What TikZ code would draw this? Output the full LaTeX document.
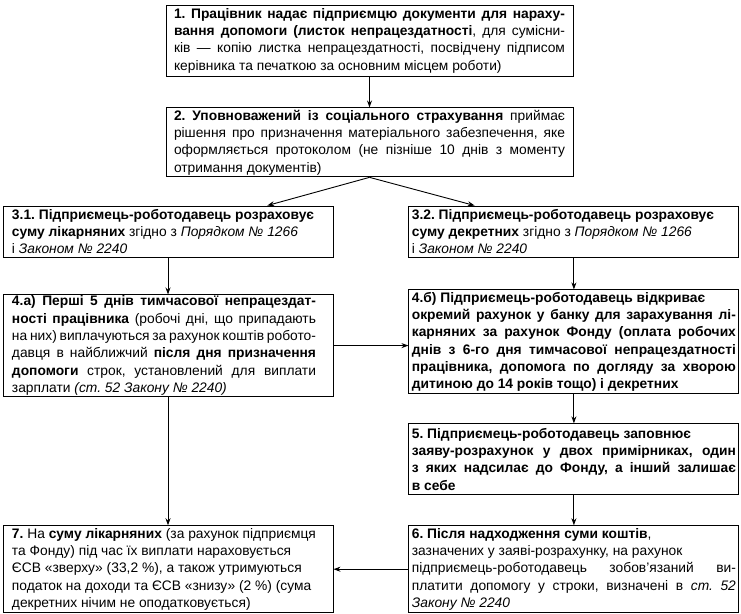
\documentclass[tikz,border=0pt]{standalone}
\usepackage{fontspec}
\setmainfont{Liberation Sans}
\usetikzlibrary{
	positioning,
	arrows.meta,
	calc
}
\frenchspacing
\tolerance=9999
\hyphenpenalty=10000
\exhyphenpenalty=10000

\tikzset{
	box/.style={draw,line width=0.9pt,align=justify,inner ysep=1pt,
		font=\fontsize{13.8}{17.3}\selectfont},
	topbox/.style={box,text width=391pt,inner xsep=8pt},
	leftbox/.style={box,text width=312pt,inner xsep=9pt,
		execute at begin node={\rightskip=8pt\relax}},
	rightbox/.style={box,text width=324pt,inner xsep=3pt},
	link/.style={line width=0.9pt,-{Stealth[length=7pt,width=5pt]}}
}

\begin{document}
\begin{tikzpicture}[x=1pt,y=-1pt]
	\useasboundingbox (0,0) rectangle (741,613);

	\node [topbox,minimum height=71pt] (b1) at (369.5,40.5)
		{\textbf{1. Працівник надає підприємцю документи для нараху-}\linebreak
		\textbf{вання допомоги (листок непрацездатності}, для сумісни-\linebreak
		ків — копію листка непрацездатності, посвідчену підписом\linebreak
		керівника та печаткою за основним місцем роботи)};
	\node [topbox,minimum height=69pt,below=31pt of b1] (b2)
		{\textbf{2. Уповноважений із соціального страхування} приймає\linebreak
		рішення про призначення матеріального забезпечення, яке\linebreak
		оформляється протоколом (не пізніше 10 днів з моменту\linebreak
		отримання документів)};
	\node [leftbox,minimum height=51pt] (b31) at (168,231.5)
		{\textbf{3.1. Підприємець-роботодавець розраховує}\\
		\textbf{суму лікарняних} згідно з \textit{Порядком № 1266}\\
		і \textit{Законом № 2240}};
	\node [rightbox,minimum height=51pt,right=75pt of b31] (b32)
		{\textbf{3.2. Підприємець-роботодавець розраховує}\\
		\textbf{суму декретних} згідно з \textit{Порядком № 1266}\\
		і \textit{Законом № 2240}};
	\node [leftbox,minimum height=96pt,below=37pt of b31] (b4a)
		{\textbf{4.а) Перші 5 днів тимчасової непрацездат-}\linebreak
		\textbf{ності працівника} (робочі дні, що припадають\linebreak
		на них) виплачуються за рахунок коштів робото-\linebreak
		давця в найближчий \textbf{після дня призначення}\linebreak
		\textbf{допомоги} строк, установлений для виплати\linebreak
		зарплати \textit{(ст. 52 Закону № 2240)}};
	\node [rightbox,minimum height=104pt,below=32pt of b32] (b4b)
		{\textbf{4.б) Підприємець-роботодавець відкриває\\
		окремий рахунок у банку для зарахування лі-\linebreak
		карняних за рахунок Фонду (оплата робочих\linebreak
		днів з 6-го дня тимчасової непрацездатності\linebreak
		працівника, допомога по догляду за хворою\linebreak
		дитиною до 14 років тощо) і декретних}};
	\node [rightbox,minimum height=71pt,below=29pt of b4b] (b5)
		{\textbf{5. Підприємець-роботодавець заповнює\\
		заяву-розрахунок у двох примірниках, один\linebreak
		з яких надсилає до Фонду, а інший залишає\linebreak
		в себе}};
	\node [rightbox,minimum height=87pt,below=30pt of b5] (b6)
		{\textbf{6. Після надходження суми коштів},\\
		зазначених у заяві-розрахунку, на рахунок\\
		підприємець-роботодавець зобов’язаний ви-\linebreak
		платити допомогу у строки, визначені в \textit{ст. 52}\linebreak
		\textit{Закону № 2240}};
	\node [leftbox,minimum height=87pt,left=75pt of b6] (b7)
		{\textbf{7.} На \textbf{суму лікарняних} (за рахунок підприємця\\
		та Фонду) під час їх виплати нараховується\\
		ЄСВ «зверху» (33,2~\%), а також утримуються\\
		податок на доходи та ЄСВ «знизу» (2~\%) (сума\\
		декретних нічим не оподатковується)};

	\draw [link] (b1) -- (b2);
	\draw [link] (b2.south) -- ($(b31.north west)!0.8!(b31.north east)$);
	\draw [link] (b2.south) -- ($(b32.north west)!0.2!(b32.north east)$);
	\draw [link] (b31) -- (b4a);
	\draw [link] (b32) -- (b4b);
	\draw [link] (b4a.east) -- (b4a.east -| b4b.west);
	\draw [link] (b4b) -- (b5);
	\draw [link] (b5) -- (b6);
	\draw [link] (b4a) -- (b7);
	\draw [link] (b6) -- (b7);
\end{tikzpicture}
\end{document}
